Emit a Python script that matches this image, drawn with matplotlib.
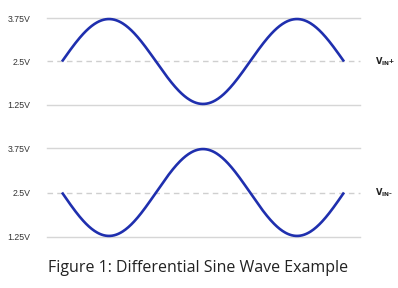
import numpy as np
import matplotlib.pyplot as plt

# tick labels and levels shared by both panels
levels = [1.25, 2.5, 3.75]
level_labels = ['1.25V', '2.5V', '3.75V']

# sine parameters
offset = 2.5
amplitude = 1.22
cycles = 1.5
signs = [1, -1]  # top = VIN+, bottom = VIN- (inverted)
names = [r'$\mathbf{V_{IN}}$+', r'$\mathbf{V_{IN}}$-']

caption = 'Figure 1: Differential Sine Wave Example'

W, H = 398, 288
fig = plt.figure(figsize=(W / 100, H / 100), dpi=100)

# pixel boxes (top, bottom gridline rows) for the two panels
panels = [(18, 105), (148, 237)]
x_left, x_right = 47, 360
wave_start, wave_end = 62, 344

t = np.linspace(0, cycles, 400)
per_px = cycles / (wave_end - wave_start)

for (ptop, pbot), sgn, name in zip(panels, signs, names):
    ax = fig.add_axes([x_left / W, 1 - pbot / H, (x_right - x_left) / W, (pbot - ptop) / H])
    ax.set_xlim(-(wave_start - x_left) * per_px, cycles + (x_right - wave_end) * per_px)
    ax.set_ylim(levels[0], levels[-1])
    for lv in levels:
        if lv == offset:
            ax.axhline(lv, color='#cfcfcf', lw=1.0, ls=(0, (4, 3)), zorder=1, clip_on=False)
        else:
            ax.axhline(lv, color='#d6d6d6', lw=1.0, zorder=1, clip_on=False)
    y = offset + sgn * amplitude * np.sin(2 * np.pi * t)
    ax.plot(t, y, color='#1f2fae', lw=1.9, zorder=3, clip_on=False, solid_capstyle='butt')
    ax.set_yticks(levels)
    ax.set_yticklabels(level_labels, fontsize=6.3, family='Liberation Sans', color='#333333')
    ax.tick_params(axis='y', length=0, pad=12)
    ax.set_xticks([])
    for s in ax.spines.values():
        s.set_visible(False)
    ax.patch.set_alpha(0)
    ax.text(1.0 + 15 / (x_right - x_left), offset, name, transform=ax.get_yaxis_transform(),
            fontsize=6, fontweight='bold', family='Liberation Sans', va='center', ha='left', color='#222222')

fig.text(198 / W, 1 - 268 / H, caption, ha='center', va='center', fontsize=11.5,
         family='Open Sans', color='#222222')

fig.savefig('out.png', dpi=100)
